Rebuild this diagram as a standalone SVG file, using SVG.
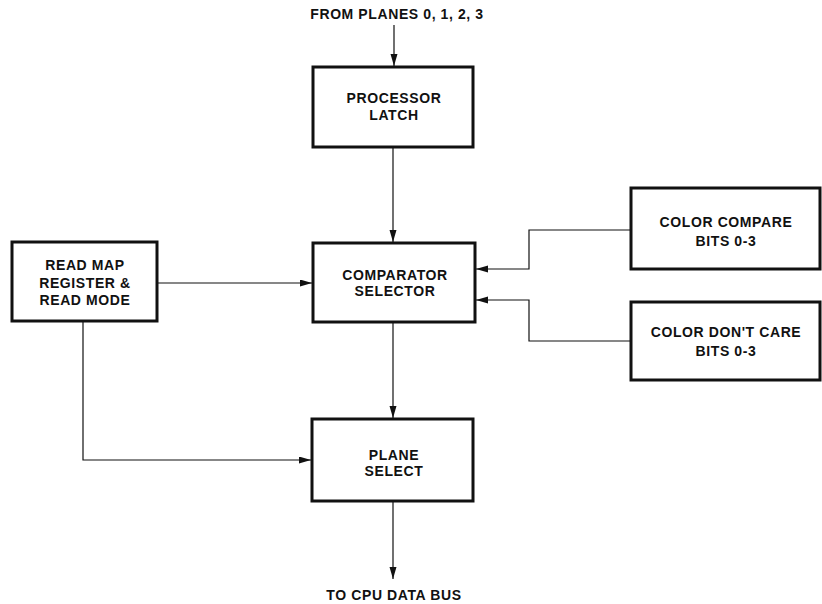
<svg xmlns="http://www.w3.org/2000/svg" width="822" height="604" viewBox="0 0 822 604">
<style>
.box{fill:#fff;stroke:#111;stroke-width:3}
.t{font-family:"Liberation Sans",Arial,sans-serif;font-weight:bold;font-size:14px;letter-spacing:0.6px;fill:#111;text-anchor:middle}
.c{fill:none;stroke:#111;stroke-width:1.2}
</style>
<defs>
<marker id="ah" markerUnits="userSpaceOnUse" markerWidth="13" markerHeight="8" refX="12" refY="3.5" orient="auto">
<path d="M0,0 L12,3.5 L0,7 z" fill="#111"/>
</marker>
</defs>
<text class="t" x="397" y="19">FROM PLANES 0, 1, 2, 3</text>
<text class="t" x="394" y="600">TO CPU DATA BUS</text>
<g id="connectors">
<path class="c" d="M394,25 V66" marker-end="url(#ah)"/>
<path class="c" d="M393,148 V242" marker-end="url(#ah)"/>
<path class="c" d="M158,283 H312" marker-end="url(#ah)"/>
<path class="c" d="M630,230 H529 V269 H476" marker-end="url(#ah)"/>
<path class="c" d="M630,341 H529 V300 H476" marker-end="url(#ah)"/>
<path class="c" d="M393,323 V418" marker-end="url(#ah)"/>
<path class="c" d="M83,322 V460 H311" marker-end="url(#ah)"/>
<path class="c" d="M393,502 V579" marker-end="url(#ah)"/>
</g>
<g id="processor-latch">
<rect class="box" x="313" y="67" width="160" height="80"/>
<text class="t" x="394" y="103">PROCESSOR</text>
<text class="t" x="394" y="120">LATCH</text>
</g>
<g id="comparator-selector">
<rect class="box" x="313" y="243" width="162" height="79"/>
<text class="t" x="395" y="280">COMPARATOR</text>
<text class="t" x="395" y="296">SELECTOR</text>
</g>
<g id="read-map">
<rect class="box" x="12" y="242" width="145" height="79"/>
<text class="t" x="85" y="270">READ MAP</text>
<text class="t" x="85" y="288">REGISTER &amp;</text>
<text class="t" x="85" y="305">READ MODE</text>
</g>
<g id="plane-select">
<rect class="box" x="312" y="419" width="161" height="82"/>
<text class="t" x="394" y="460">PLANE</text>
<text class="t" x="394" y="476">SELECT</text>
</g>
<g id="color-compare">
<rect class="box" x="631" y="188" width="189" height="81"/>
<text class="t" x="726" y="227">COLOR COMPARE</text>
<text class="t" x="726" y="246">BITS 0-3</text>
</g>
<g id="color-dont-care">
<rect class="box" x="631" y="302" width="189" height="78"/>
<text class="t" x="726" y="337">COLOR DON'T CARE</text>
<text class="t" x="726" y="356">BITS 0-3</text>
</g>
</svg>
